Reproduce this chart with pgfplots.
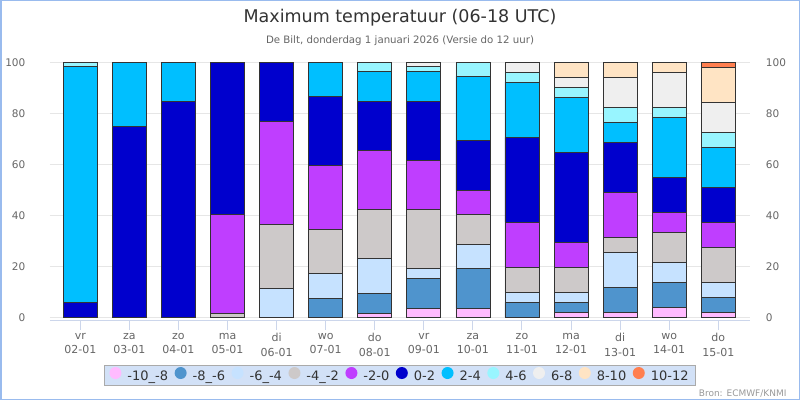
\documentclass[border=0pt]{standalone}
\usepackage{fontspec}
\setmainfont{DejaVu Sans}
\usepackage{pgfplots}
\pgfplotsset{compat=1.18}
\usepackage{pgfplotstable}
\definecolor{cA}{HTML}{FFBBFF}
\definecolor{cB}{HTML}{4F94CD}
\definecolor{cC}{HTML}{C6E2FF}
\definecolor{cD}{HTML}{CDC9C9}
\definecolor{cE}{HTML}{BF3EFF}
\definecolor{cF}{HTML}{0000CD}
\definecolor{cG}{HTML}{00BFFF}
\definecolor{cH}{HTML}{98F5FF}
\definecolor{cI}{HTML}{EFEFEF}
\definecolor{cJ}{HTML}{FFE4C4}
\definecolor{cK}{HTML}{FF7F50}
\definecolor{gridc}{HTML}{E6E6E6}
\definecolor{axisc}{HTML}{CCD6EB}
\definecolor{labc}{HTML}{666666}
\definecolor{titc}{HTML}{333333}
\definecolor{legbg}{HTML}{D2E1F7}
\definecolor{legbd}{HTML}{AAAAAA}
\definecolor{framec}{HTML}{99BBEE}
\definecolor{barbd}{HTML}{333333}

\pgfplotstableread{
x c1 c2 c3 c4 c5 c6 c7 c8 c9 c10 c11
0 0 0 0 0 0 5.7 92.5 1.8 0 0 0
1 0 0 0 0 0 74.9 25.1 0 0 0 0
2 0 0 0 0 0 84.7 15.3 0 0 0 0
3 0 0 0 1.6 38.8 59.6 0 0 0 0 0
4 0 0 11.4 25.1 40.4 23.1 0 0 0 0 0
5 0 7.45 9.8 17.25 25.0 27.0 13.5 0 0 0 0
6 1.57 7.83 13.7 19.25 23.15 19.2 11.8 3.5 0 0 0
7 3.5 11.8 3.9 23.15 19.25 23.1 11.8 1.9 1.6 0 0
8 3.5 15.7 9.4 11.8 9.4 19.6 25.1 5.5 0 0 0
9 0 5.9 3.9 9.8 17.65 33.35 21.6 3.9 3.9 0 0
10 1.96 3.92 3.92 9.8 9.8 35.3 21.6 3.9 3.9 5.9 0
11 1.96 9.8 13.7 5.9 17.6 19.6 7.8 5.9 11.8 5.94 0
12 3.92 9.8 7.84 11.76 7.84 13.7 23.5 3.92 13.7 4.02 0
13 1.96 5.88 5.88 13.7 9.8 13.7 15.7 5.9 11.8 13.7 1.98
}\datatable

\begin{document}
\begin{tikzpicture}[x=1pt,y=1pt]
\fill[white] (0,0) rectangle (800,400);
\begin{axis}[
  at={(50pt,79.3pt)}, anchor=south west,
  scale only axis, width=700pt, height=258.4pt,
  xmin=-0.617, xmax=13.646, ymin=-1.3, ymax=100,
  ybar stacked, bar width=34pt,
  separate axis lines,
  axis x line*=bottom, axis y line*=left,
  x axis line style={-, draw=axisc, line width=1pt},
  y axis line style={draw=none},
  xtick={0,...,13},
  xticklabels={{vr\\02-01},{za\\03-01},{zo\\04-01},{ma\\05-01},{di\\06-01},{wo\\07-01},{do\\08-01},{vr\\09-01},{za\\10-01},{zo\\11-01},{ma\\12-01},{di\\13-01},{wo\\14-01},{do\\15-01}},
  xticklabel style={align=center, font=\fontsize{11}{14.3}\selectfont, text=labc, inner sep=0pt, anchor=north, yshift=-3pt},
  xtick style={draw=axisc, line width=1pt},
  tick align=outside, major tick length=9.5pt,
  ytick={0,20,...,100},
  ytick style={draw=none},
  yticklabel style={font=\fontsize{10.5}{12}\selectfont, text=labc, inner sep=0pt, anchor=east, xshift=-15pt},
  /pgf/number format/assume math mode=true,
  ymajorgrids, grid style={draw=gridc, line width=0.8pt},
  every axis plot/.append style={draw=barbd, line width=0.8pt},
  legend columns=11,
  legend style={at={(0.5,-0.2113)}, anchor=center, fill=legbg, draw=legbd, line width=0.8pt,
    font=\fontsize{13}{15}\selectfont, text=titc, inner xsep=5pt, inner ysep=1.5pt,
    /tikz/every even column/.append style={column sep=4.5pt},
    /tikz/every odd column/.append style={column sep=4pt}},
  legend image code/.code={\fill[#1, draw=none] (0.35em,0.3em) circle (6pt);},
]
\addplot[fill=cA] table[x=x,y=c1]{\datatable};
\addplot[fill=cB] table[x=x,y=c2]{\datatable};
\addplot[fill=cC] table[x=x,y=c3]{\datatable};
\addplot[fill=cD] table[x=x,y=c4]{\datatable};
\addplot[fill=cE] table[x=x,y=c5]{\datatable};
\addplot[fill=cF] table[x=x,y=c6]{\datatable};
\addplot[fill=cG] table[x=x,y=c7]{\datatable};
\addplot[fill=cH] table[x=x,y=c8]{\datatable};
\addplot[fill=cI] table[x=x,y=c9]{\datatable};
\addplot[fill=cJ] table[x=x,y=c10]{\datatable};
\addplot[fill=cK] table[x=x,y=c11]{\datatable};
\legend{-10\_-8,-8\_-6,-6\_-4,-4\_-2,-2-0,0-2,2-4,4-6,6-8,8-10,10-12}
\end{axis}
\begin{axis}[
  at={(50pt,79.3pt)}, anchor=south west,
  scale only axis, width=700pt, height=258.4pt,
  xmin=-0.617, xmax=13.646, ymin=-1.3, ymax=100,
  hide x axis,
  axis y line*=right,
  y axis line style={draw=none},
  ytick={0,20,...,100},
  ytick style={draw=none},
  yticklabel style={font=\fontsize{10.5}{12}\selectfont, text=labc, inner sep=0pt, anchor=west, xshift=15.7pt},
  /pgf/number format/assume math mode=true,
]
\addplot[draw=none] coordinates {(0,0)};
\end{axis}
\node[anchor=base, text=titc, font=\fontsize{17.5}{20}\selectfont] at (400,377.7) {Maximum temperatuur (06-18 UTC)};
\node[anchor=base, text=labc, font=\fontsize{10.2}{12}\selectfont] at (400,356.3) {De Bilt, donderdag 1 januari 2026 (Versie do 12 uur)};
\node[anchor=base east, text=black!40, font=\fontsize{9}{10}\selectfont] at (790,4) {Bron: ECMWF/KNMI};
\draw[framec, line width=1.5pt] (0.75,0.75) rectangle (799.25,399.25);
\pgfresetboundingbox
\path[use as bounding box] (0,0) rectangle (800,400);
\end{tikzpicture}
\end{document}
